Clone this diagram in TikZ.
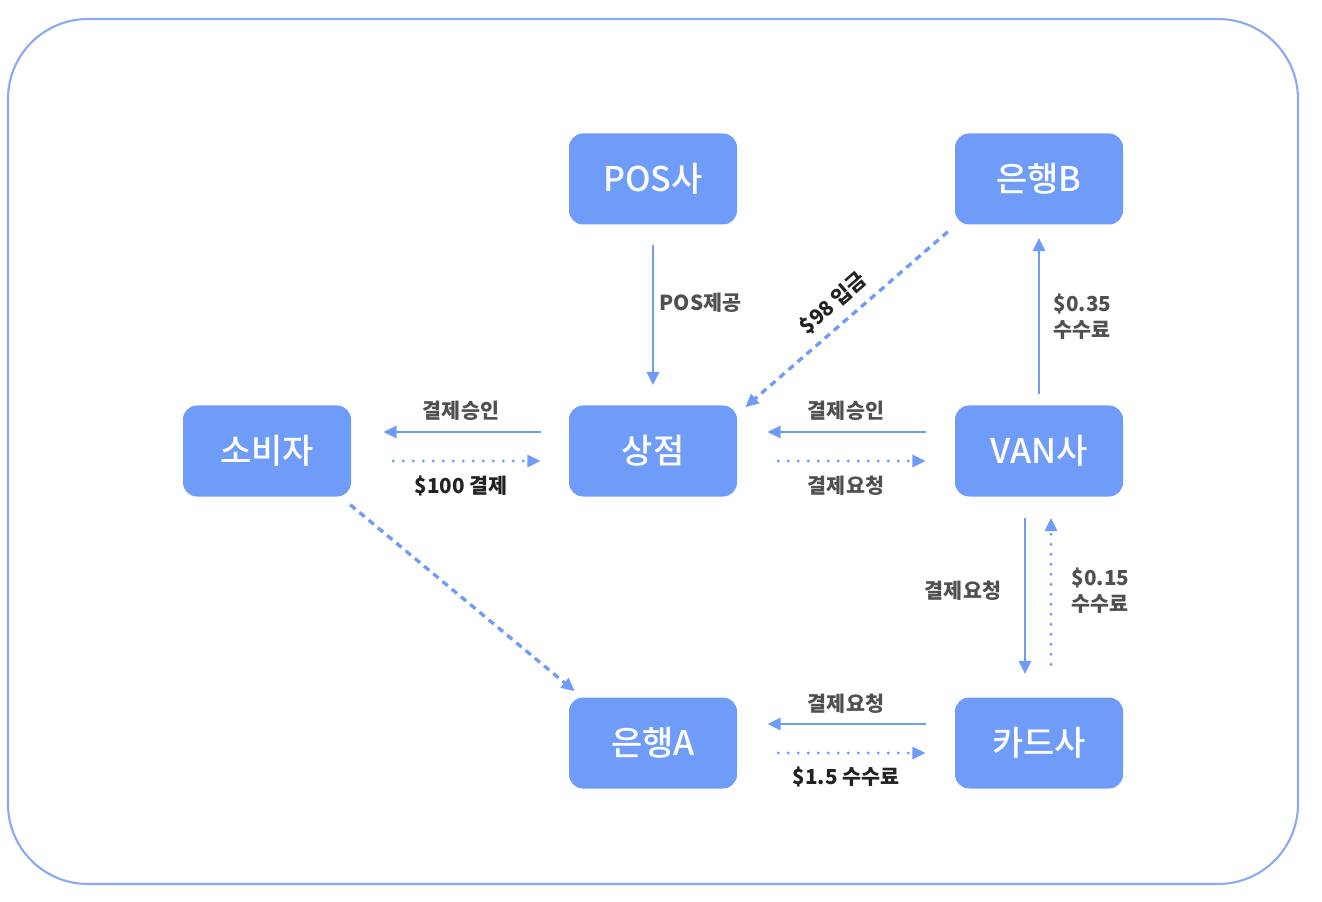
\documentclass[tikz,border=0pt]{standalone}
\usepackage{fontspec}
\setmainfont{Noto Sans CJK KR}
\newfontfamily\krmed{Noto Sans CJK KR Medium}
\usetikzlibrary{arrows.meta,calc}
\definecolor{boxblue}{HTML}{6F9CF8}
\definecolor{lineblue}{HTML}{6F9CF8}
\definecolor{frameblue}{HTML}{8BAAF5}
\definecolor{lblgray}{HTML}{505050}
\definecolor{lbldark}{HTML}{222222}
\begin{document}
\begin{tikzpicture}[x=0.75pt,y=-0.75pt,
  box/.style={rectangle,rounded corners=10.5pt,minimum width=126pt,minimum height=68.25pt,
    fill=boxblue,draw=none,text=white,inner sep=0pt,font=\krmed\fontsize{25.5}{28}\selectfont},
  lbl/.style={text=lblgray,inner sep=1pt,font=\bfseries\fontsize{15.5}{19.5}\selectfont,align=left},
  lbldk/.style={text=lbldark,inner sep=1pt,font=\bfseries\fontsize{15.5}{19.5}\selectfont,align=left},
  conn/.style={draw=lineblue,line width=2.2pt,-{Triangle[length=10pt,width=9pt]}},
  dotconn/.style={conn,line cap=round,dash pattern=on 0pt off 7.5pt,line width=2.3pt},
  dashconn/.style={conn,dash pattern=on 5pt off 4pt,line width=2.5pt},
]
\useasboundingbox (0,0) rectangle (1322,902);
\draw[frameblue,line width=1.6pt,rounded corners=60pt] (8,19) rectangle (1298,884);

\node[box] (pos)   at (653,179) {POS사};
\node[box] (bankb) at (1039,179) {은행B};
\node[box] (cons)  at (267,451) {소비자};
\node[box] (shop)  at (653,451) {상점};
\node[box] (van)   at (1039,451) {VAN사};
\node[box] (banka) at (653,743) {은행A};
\node[box] (card)  at (1039,743) {카드사};

% POS -> shop
\draw[conn,shorten <=15pt,shorten >=15pt] (pos.south) -- (shop.north);
\node[lbl,anchor=west] (lpos) at (658,303) {POS제공};

% shop <-> consumer
\draw[conn,shorten <=21pt,shorten >=24pt] ($(shop.west)+(0,-19)$) -- ($(cons.east)+(0,-19)$);
\draw[dotconn,shorten <=31.5pt,shorten >=21pt] ($(cons.east)+(0,10)$) -- ($(shop.west)+(0,10)$);
\node[lbl] (l1) at (461,411) {결제승인};
\node[lbldk] (l2) at (461,486) {\$100 결제};

% van <-> shop
\draw[conn,shorten <=21.75pt,shorten >=22.5pt] ($(van.west)+(0,-19)$) -- ($(shop.east)+(0,-19)$);
\draw[dotconn,shorten <=30.75pt,shorten >=21.75pt] ($(shop.east)+(0,10)$) -- ($(van.west)+(0,10)$);
\node[lbl] (l3) at (846,411) {결제승인};
\node[lbl] (l4) at (846,486) {결제요청};

% van -> bank B
\draw[conn,shorten <=8.25pt,shorten >=9.75pt] (van.north) -- (bankb.south);
\node[lbl,anchor=west] (l5) at (1052,317) {\$0.35\\수수료};

% bank B -> shop
\draw[dashconn] ($(bankb.south west)+(-7,7)$) -- ($(shop.north east)+(8,2)$);
\node[lbldk,rotate=41] (l6) at (833,303) {\$98 입금};

% van <-> card
\draw[conn,shorten <=15.75pt,shorten >=17.25pt] ($(van.south)+(-14,0)$) -- ($(card.north)+(-14,0)$);
\draw[dotconn,shorten <=24.75pt,shorten >=15.75pt] ($(card.north)+(12,0)$) -- ($(van.south)+(12,0)$);
\node[lbl] (l7) at (963,591) {결제요청};
\node[lbl,anchor=west] (l8) at (1070,591) {\$0.15\\수수료};

% card <-> bank A
\draw[conn,shorten <=21.75pt,shorten >=22.5pt] ($(card.west)+(0,-19)$) -- ($(banka.east)+(0,-19)$);
\draw[dotconn,shorten <=30.75pt,shorten >=21.75pt] ($(banka.east)+(0,10)$) -- ($(card.west)+(0,10)$);
\node[lbl] (l9) at (846,704) {결제요청};
\node[lbldk] (l10) at (846,777) {\$1.5 수수료};

% consumer -> bank A
\draw[dashconn] ($(cons.south east)+(-1,8)$) -- ($(banka.north west)+(6,-6)$);
\end{tikzpicture}
\end{document}
